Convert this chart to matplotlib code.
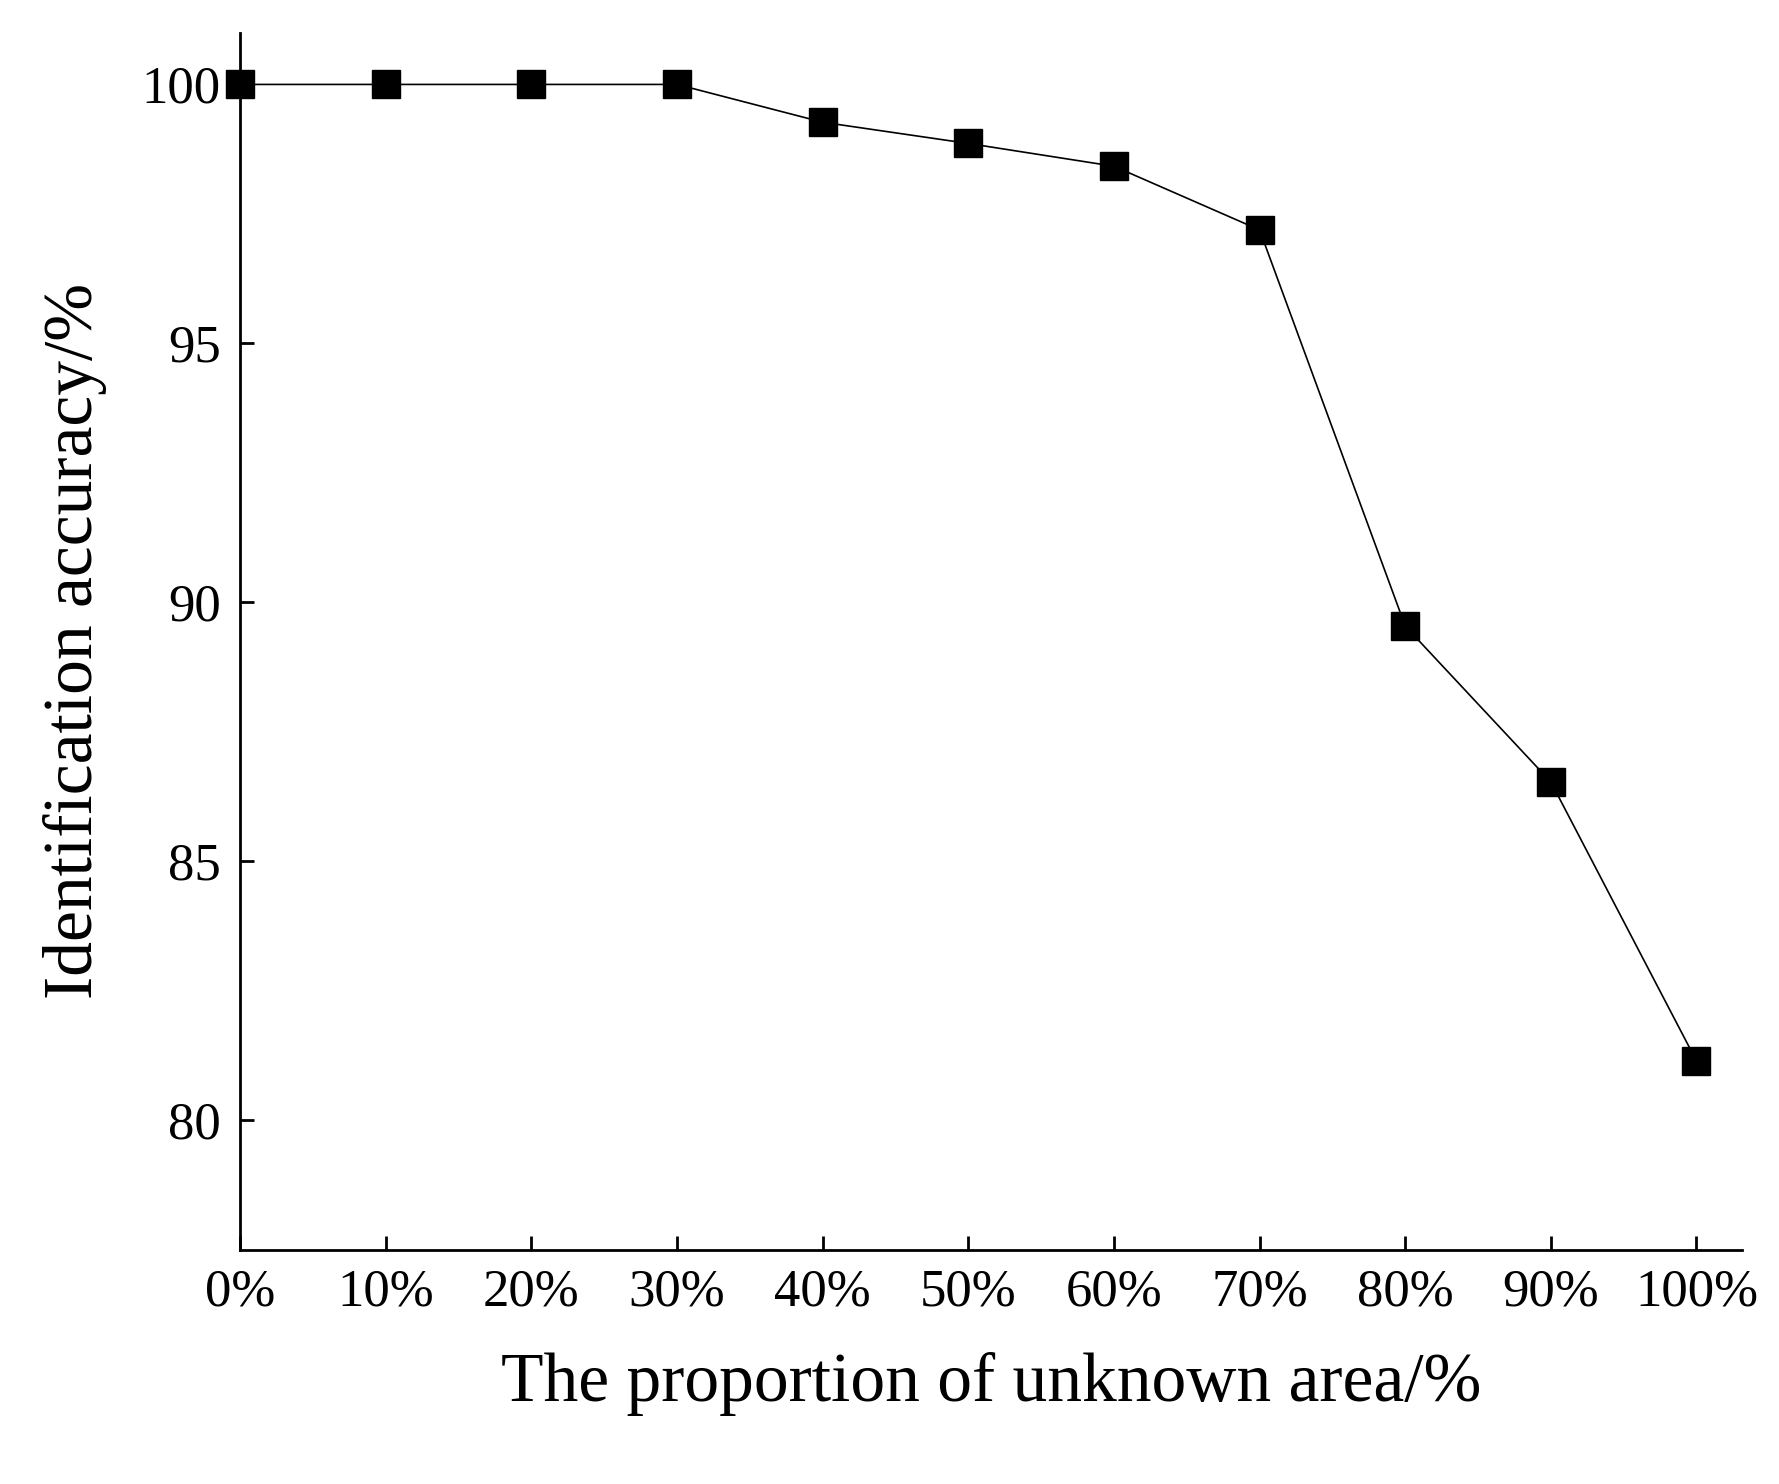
import matplotlib
matplotlib.use('Agg')
import matplotlib.pyplot as plt

proportion = [0, 10, 20, 30, 40, 50, 60, 70, 80, 90, 100]
accuracy = [100.0, 100.0, 100.0, 100.0, 99.27, 98.86, 98.42, 97.19, 89.54, 86.53, 81.14]
x_labels = ['0%', '10%', '20%', '30%', '40%', '50%', '60%', '70%', '80%', '90%', '100%']
y_ticks = [80, 85, 90, 95, 100]

plt.rcParams['font.family'] = ['Liberation Serif', 'DejaVu Serif']

fig = plt.figure(figsize=(17.79, 14.84), dpi=100)
ax = fig.add_axes([0.135, 0.158, 0.844, 0.82])
ax.plot(proportion, accuracy, color='black', linewidth=1.2, marker='s',
        markersize=20, markerfacecolor='black', clip_on=False, zorder=3)

ax.set_xlim(0, 103.1)
ax.set_ylim(77.5, 101)
ax.set_xticks(proportion)
ax.set_xticklabels(x_labels)
ax.set_yticks(y_ticks)
ax.tick_params(axis='both', direction='in', labelsize=38, width=2, length=10, pad=14)
for side in ['top', 'right']:
    ax.spines[side].set_visible(False)
for side in ['left', 'bottom']:
    ax.spines[side].set_linewidth(2)

ax.set_xlabel('The proportion of unknown area/%', fontsize=50, labelpad=25)
ax.set_ylabel('Identification accuracy/%', fontsize=50, labelpad=25)

fig.savefig('out.png', dpi=100)
